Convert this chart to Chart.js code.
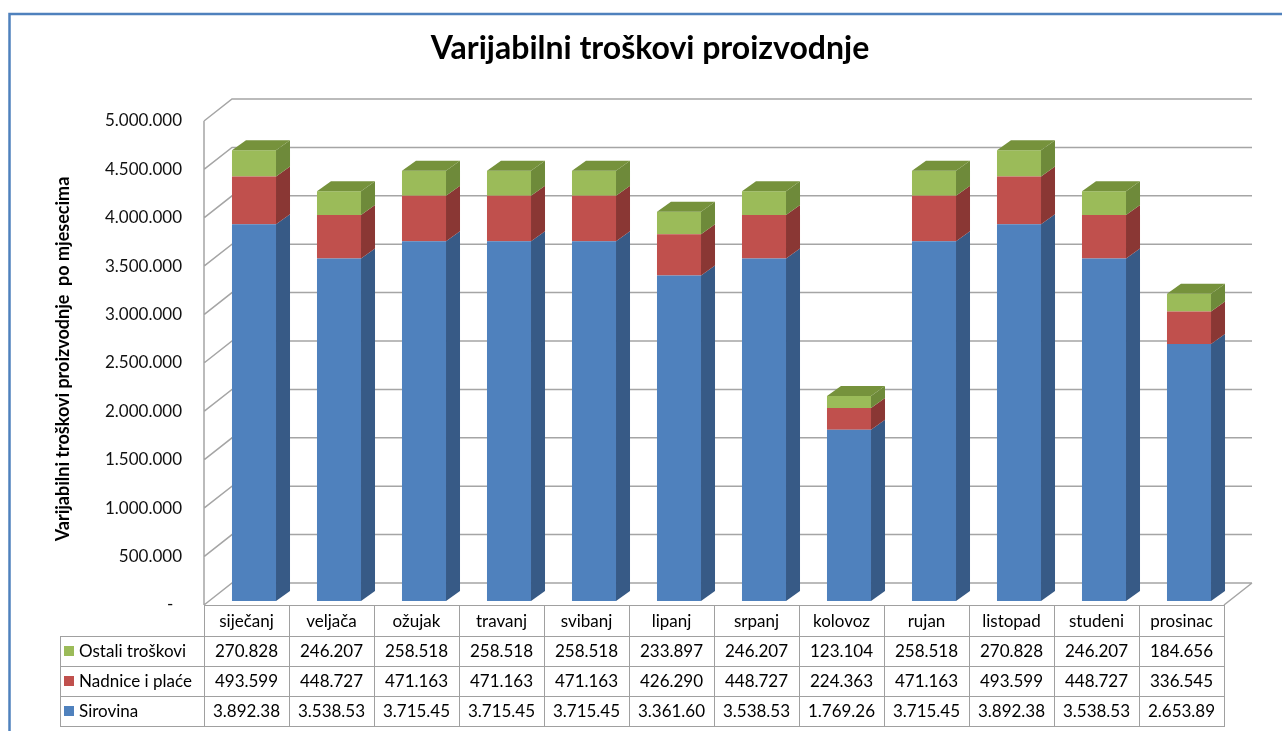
<!DOCTYPE html>
<html>
<head>
<meta charset="utf-8">
<title>Varijabilni troškovi proizvodnje</title>
<script src="https://cdn.jsdelivr.net/npm/chart.js@4.4.1/dist/chart.umd.min.js"></script>
<style>
  html, body { margin: 0; padding: 0; background: #fff; overflow: hidden; }
  canvas { display: block; }
</style>
</head>
<body>
<canvas id="troskoviChart" width="1282" height="731"></canvas>
<script>
// Mjeseci (kategorije)
const mjeseci = ['siječanj', 'veljača', 'ožujak', 'travanj', 'svibanj', 'lipanj',
  'srpanj', 'kolovoz', 'rujan', 'listopad', 'studeni', 'prosinac'];

// Serije, odozdo prema gore u stupcu
const sirovina = [3892380, 3538530, 3715450, 3715450, 3715450, 3361600,
  3538530, 1769260, 3715450, 3892380, 3538530, 2653890];
const nadnice = [493599, 448727, 471163, 471163, 471163, 426290,
  448727, 224363, 471163, 493599, 448727, 336545];
const ostali = [270828, 246207, 258518, 258518, 258518, 233897,
  246207, 123104, 258518, 270828, 246207, 184656];

// Oznake na osi Y
const yOznake = [0, 500000, 1000000, 1500000, 2000000, 2500000,
  3000000, 3500000, 4000000, 4500000, 5000000];

// Boje: prednja strana, bok, vrh
const plava = ['#4f81bd', '#375a86', '#3f6797'];
const crvena = ['#c0504d', '#8a3734', '#9a403d'];
const zelena = ['#9bbb59', '#6e8a3a', '#76923c'];

// "3D" pomaci
const ZID_DX = 28, ZID_DY = -22;   // dubina zidova
const STUP_DX = 14, STUP_DY = -10; // dubina stupca
const POMAK_X = 7.5, POMAK_Y = 4;  // stupci stoje malo iza prednjeg ruba poda

const FONT = 'Lato, "Open Sans", "Liberation Sans", sans-serif';

function tocke(n) {
  return String(n).replace(/\B(?=(\d{3})+(?!\d))/g, '.');
}

// Excel odreže znakove koji ne stanu u ćeliju
function skrati(ctx, tekst, max) {
  while (tekst.length > 1 && ctx.measureText(tekst).width > max) {
    tekst = tekst.slice(0, -1);
  }
  return tekst;
}

const serije = [
  { label: 'Sirovina', data: sirovina, boje: plava },
  { label: 'Nadnice i plaće', data: nadnice, boje: crvena },
  { label: 'Ostali troškovi', data: ostali, boje: zelena }
];

const excel3d = {
  id: 'excel3d',
  beforeDatasetsDraw(chart) {
    const { ctx, chartArea: a, scales: { y } } = chart;
    const lijevo = a.left - POMAK_X, desno = a.right - POMAK_X;
    const dno = y.getPixelForValue(0) + POMAK_Y;
    const vrh = y.getPixelForValue(y.max) + POMAK_Y;

    ctx.save();
    ctx.strokeStyle = '#a5a5a5';
    ctx.lineWidth = 1.5;
    ctx.beginPath();
    y.ticks.forEach(t => {
      const yf = y.getPixelForValue(t.value) + POMAK_Y;
      ctx.moveTo(lijevo, yf);
      ctx.lineTo(lijevo + ZID_DX, yf + ZID_DY);
      ctx.lineTo(desno + ZID_DX, yf + ZID_DY);
    });
    // prednji rub lijevog zida i desni rub poda
    ctx.moveTo(lijevo, vrh);
    ctx.lineTo(lijevo, dno);
    ctx.moveTo(desno, dno);
    ctx.lineTo(desno + ZID_DX, dno + ZID_DY);
    ctx.stroke();
    ctx.restore();
  },
  afterDatasetsDraw(chart) {
    const { ctx } = chart;
    const zadnji = chart.data.datasets.length - 1;
    ctx.save();
    chart.data.datasets.forEach((ds, di) => {
      const boje = serije[di].boje;
      chart.getDatasetMeta(di).data.forEach(bar => {
        const { x, y, base, width } = bar.getProps(['x', 'y', 'base', 'width'], true);
        const l = x - width / 2, r = x + width / 2;
        // bok
        ctx.fillStyle = boje[1];
        ctx.beginPath();
        ctx.moveTo(r, y);
        ctx.lineTo(r + STUP_DX, y + STUP_DY);
        ctx.lineTo(r + STUP_DX, base + STUP_DY);
        ctx.lineTo(r, base);
        ctx.closePath();
        ctx.fill();
        // vrh
        if (di === zadnji) {
          ctx.fillStyle = boje[2];
          ctx.beginPath();
          ctx.moveTo(l, y);
          ctx.lineTo(l + STUP_DX, y + STUP_DY);
          ctx.lineTo(r + STUP_DX, y + STUP_DY);
          ctx.lineTo(r, y);
          ctx.closePath();
          ctx.fill();
        }
      });
    });
    ctx.restore();
  },
  afterDraw(chart) {
    const { ctx, chartArea: a, scales: { x, y } } = chart;
    const kol = x.width / mjeseci.length;
    const lijevo = a.left - POMAK_X;
    const vrhTablice = y.getPixelForValue(0) + POMAK_Y;
    const visZaglavlja = 31, visReda = 30;
    const legLijevo = 60;
    const redovi = [serije[2], serije[1], serije[0]];

    ctx.save();
    ctx.strokeStyle = '#a0a0a0';
    ctx.lineWidth = 1;
    ctx.font = '17px ' + FONT;
    ctx.fillStyle = '#000';
    ctx.textAlign = 'center';
    ctx.textBaseline = 'middle';

    // zaglavlje s mjesecima
    mjeseci.forEach((m, i) => {
      const cx = x.getPixelForValue(i) - POMAK_X;
      const x0 = cx - kol / 2;
      ctx.strokeRect(Math.round(x0) + 0.5, Math.round(vrhTablice) + 0.5, Math.round(kol), visZaglavlja);
      ctx.fillText(skrati(ctx, m, kol - 12), cx, vrhTablice + visZaglavlja / 2 + 1);
    });

    // redovi s vrijednostima
    redovi.forEach((s, r) => {
      const ry = vrhTablice + visZaglavlja + r * visReda;
      // ćelija legende
      ctx.strokeRect(legLijevo + 0.5, Math.round(ry) + 0.5, Math.round(lijevo - legLijevo), visReda);
      ctx.fillStyle = s.boje[0];
      ctx.fillRect(legLijevo + 4, ry + visReda / 2 - 5, 10, 10);
      ctx.fillStyle = '#000';
      ctx.textAlign = 'left';
      ctx.fillText(s.label, legLijevo + 19, ry + visReda / 2 + 1);
      ctx.textAlign = 'center';
      s.data.forEach((v, i) => {
        const cx = x.getPixelForValue(i) - POMAK_X;
        const x0 = cx - kol / 2;
        ctx.strokeRect(Math.round(x0) + 0.5, Math.round(ry) + 0.5, Math.round(kol), visReda);
        ctx.fillText(skrati(ctx, tocke(v), kol - 14), cx, ry + visReda / 2 + 1);
      });
    });

    // okvir grafikona
    ctx.strokeStyle = '#4f81bd';
    ctx.lineWidth = 2.5;
    ctx.strokeRect(9.5, 14, 1400, 800);
    ctx.restore();
  }
};

const ctx = document.getElementById('troskoviChart').getContext('2d');
const troskoviChart = new Chart(ctx, {
  type: 'bar',
  data: {
    labels: mjeseci,
    datasets: serije.map(s => ({
      label: s.label,
      data: s.data,
      backgroundColor: s.boje[0],
      borderWidth: 0
    }))
  },
  options: {
    responsive: false,
    animation: false,
    devicePixelRatio: 1,
    categoryPercentage: 1,
    barPercentage: 0.518,
    layout: { padding: { left: 68.5, right: 50.5, top: 0, bottom: 130 } },
    plugins: {
      legend: { display: false },
      tooltip: { enabled: false },
      title: {
        display: true,
        text: 'Varijabilni troškovi proizvodnje',
        color: '#000',
        font: { family: FONT, size: 32, weight: 'bold' },
        padding: { top: 29, bottom: 49.6 }
      }
    },
    scales: {
      x: {
        stacked: true,
        display: false
      },
      y: {
        stacked: true,
        min: 0,
        max: 5000000,
        afterBuildTicks: scale => { scale.ticks = yOznake.map(v => ({ value: v })); },
        afterFit: scale => { scale.width = 143; },
        grid: { display: false, drawTicks: false },
        border: { display: false },
        ticks: {
          color: '#111',
          font: { family: FONT, size: 17 },
          padding: 29.5,
          labelOffset: POMAK_Y,
          callback: v => v === 0 ? '-  ' : tocke(v)
        },
        title: {
          display: true,
          text: 'Varijabilni troškovi proizvodnje  po mjesecima',
          color: '#000',
          font: { family: FONT, size: 18, weight: 'bold' },
          padding: { top: -16, bottom: 0 }
        }
      }
    }
  },
  plugins: [excel3d]
});
</script>
</body>
</html>
